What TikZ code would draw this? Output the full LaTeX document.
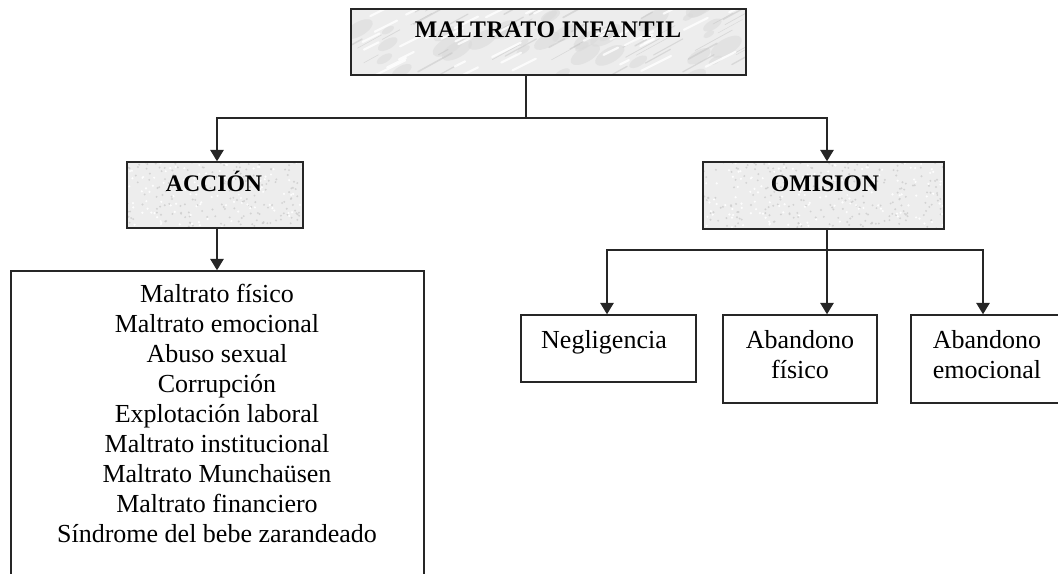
\documentclass[tikz,border=0pt]{standalone}
\usepackage{fontspec}
\setmainfont{Liberation Serif}
\usetikzlibrary{arrows.meta,calc}
\begin{document}
\begin{tikzpicture}[x=0.75pt,y=-0.75pt,
  boxline/.style={draw=black!85,line width=1.1pt},
  marble/.style={boxline,fill=black!7,inner sep=0pt,
    path picture={\pgfmathsetseed{7}
      \foreach \i in {1,...,35}{
        \pgfmathsetmacro{\px}{rand*200}\pgfmathsetmacro{\py}{rand*36}
        \pgfmathsetmacro{\pr}{4+rnd*10}
        \fill[black!14,opacity=0.6] ($(path picture bounding box.center)+(\px,\py)$) ellipse[x radius=\pr pt,y radius=0.45*\pr pt,rotate=30];
      }
      \foreach \i in {1,...,45}{
        \pgfmathsetmacro{\px}{rand*200}\pgfmathsetmacro{\py}{rand*36}
        \pgfmathsetmacro{\pl}{8+rnd*30}\pgfmathsetmacro{\pw}{0.3+rnd*1.0}
        \draw[black!25,line width=\pw pt,opacity=0.45,line cap=round]
          ($(path picture bounding box.center)+(\px,\py)$) -- ++(\pl,-0.55*\pl);
      }
      \foreach \i in {1,...,40}{
        \pgfmathsetmacro{\px}{rand*200}\pgfmathsetmacro{\py}{rand*36}
        \pgfmathsetmacro{\pl}{6+rnd*25}
        \draw[white,line width=1.6pt,opacity=0.8,line cap=round]
          ($(path picture bounding box.center)+(\px,\py)$) -- ++(\pl,-0.5*\pl);
      }}},
  granite/.style={boxline,fill=black!7,inner sep=0pt,
    path picture={\pgfmathsetseed{11}
      \foreach \i in {1,...,260}{
        \pgfmathsetmacro{\px}{rand*125}\pgfmathsetmacro{\py}{rand*36}
        \fill[black!20,opacity=0.8] ($(path picture bounding box.center)+(\px,\py)$) circle[radius=0.8pt];
      }
      \foreach \i in {1,...,160}{
        \pgfmathsetmacro{\px}{rand*125}\pgfmathsetmacro{\py}{rand*36}
        \fill[white,opacity=0.9] ($(path picture bounding box.center)+(\px,\py)$) circle[radius=0.9pt];
      }}},
  plainbox/.style={boxline,fill=white,inner sep=0pt},
  conn/.style={draw=black!85,line width=1.1pt},
  arr/.style={conn,-{Triangle[length=8.5pt,width=10pt]}},
  headtxt/.style={font=\fontsize{17.8}{21}\selectfont\bfseries,anchor=base,inner sep=0pt},
  bodytxt/.style={font=\fontsize{19.5}{22.5}\selectfont,anchor=base,inner sep=0pt,align=center}
]
\useasboundingbox (0,0) rectangle (1058,574);
\clip (0,0) rectangle (1058,574);
% boxes
\node[marble,minimum width=395*0.75pt,minimum height=66*0.75pt] (top) at (548.5,42) {};
\node[granite,minimum width=176*0.75pt,minimum height=66*0.75pt] (accion) at (215,195) {};
\node[granite,minimum width=241*0.75pt,minimum height=67*0.75pt] (omision) at (823.5,195.5) {};
\node[plainbox,minimum width=413*0.75pt,minimum height=340*0.75pt] (list) at (217.5,441) {};
\node[plainbox,minimum width=175*0.75pt,minimum height=67*0.75pt] (neg) at (608.5,348.5) {};
\node[plainbox,minimum width=154*0.75pt,minimum height=88*0.75pt] (fis) at (800,359) {};
\node[plainbox,minimum width=152*0.75pt,minimum height=88*0.75pt] (emo) at (987,359) {};
% texts
\node[headtxt] (topT) at (548,38) {\addfontfeatures{LetterSpace=3}MALTRATO INFANTIL};
\node[headtxt] (accionT) at (214,192) {ACCIÓN};
\node[headtxt] (omisionT) at (825,192) {OMISION};
\node[bodytxt] (negT) at (604,349) {Negligencia};
\node[bodytxt,anchor=north] (fisT) at (800,330) {Abandono\\físico};
\node[bodytxt,anchor=north] (emoT) at (987,330) {Abandono\\emocional};
\node[bodytxt,anchor=north] (listT) at (217,284) {Maltrato físico\\Maltrato emocional\\Abuso sexual\\Corrupción\\Explotación laboral\\Maltrato institucional\\Maltrato Munchaüsen\\Maltrato financiero\\Síndrome del bebe zarandeado};
% connectors
\coordinate (j1) at (526,118);
\coordinate (j2) at (827,250);
\draw[conn] (top.south -| j1) -- (j1);
\draw[arr] (j1) -| ($(accion.north)+(2,0)$);
\draw[arr] (j1) -| ($(omision.north)+(3.5,0)$);
\draw[arr] ($(accion.south)+(2,0)$) -- ($(list.north)+(-0.5,0)$);
\draw[conn] (omision.south -| j2) -- (j2);
\draw[arr] (j2) -| ($(neg.north)+(-1.5,0)$);
\draw[arr] (j2) -- (j2 |- fis.north);
\draw[arr] (j2) -| ($(emo.north)+(-4,0)$);
\end{tikzpicture}
\end{document}
